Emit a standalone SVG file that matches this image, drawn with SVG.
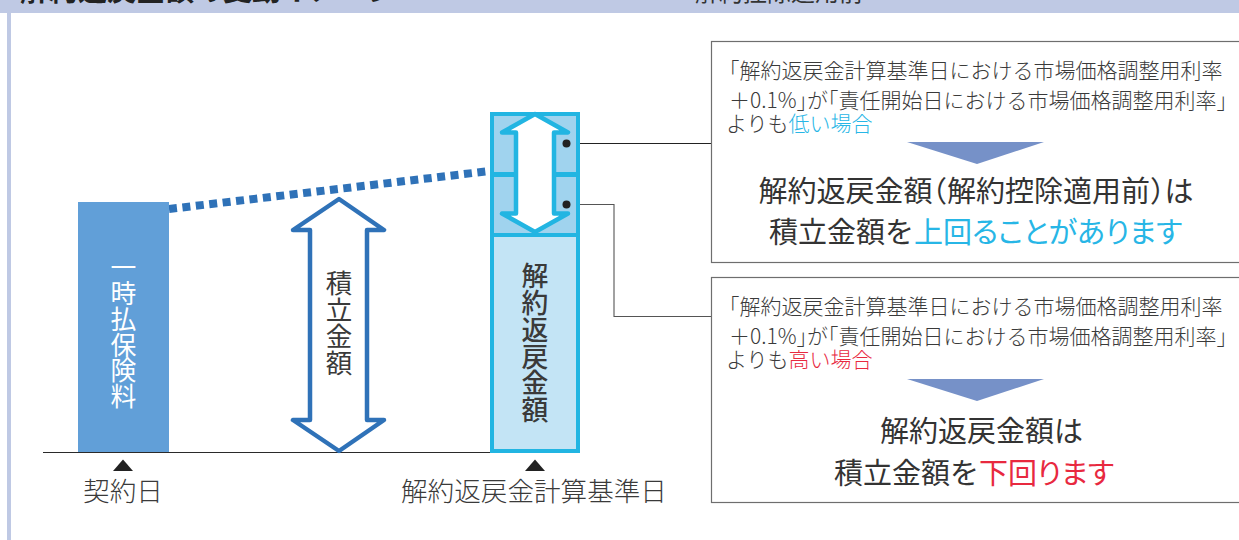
<svg xmlns="http://www.w3.org/2000/svg" width="1239" height="540" viewBox="0 0 1239 540">
<defs><style>
text{font-family:"Noto Sans CJK JP","Noto Sans",sans-serif;font-weight:300;fill:#3a3a3a}
.small{font-size:21px}
.big{font-size:29px;font-weight:400;fill:#333}
.mid{text-anchor:middle}
.label{font-size:26.6px;text-anchor:middle}
.v{writing-mode:vertical-rl;text-anchor:middle}
.cy{fill:#27b6e6}
.rd{fill:#e8293f}
.h{font-feature-settings:"halt"}
.p{font-feature-settings:"palt"}
.box{fill:#fff;stroke:#6e6e6e;stroke-width:1.2}
.lead{fill:none;stroke-width:1.1}
</style></defs>
<rect width="1239" height="540" fill="#fff"/>
<g id="frame"><rect x="0" y="0" width="1239" height="13" fill="#bfc9e4"/><rect x="7" y="13" width="4" height="527" fill="#bfc9e4"/>
<text x="20" y="1" font-size="29" style="font-weight:700;fill:#222">解約返戻金額の変動イメージ</text>
<text x="695" y="1" font-size="24" style="font-weight:400;fill:#333">解約控除適用前</text></g>
<g id="connectors">
<path d="M169 209L490 171" fill="none" stroke="#2f72b8" stroke-width="8" stroke-dasharray="8 5.500"/>
<path class="lead" stroke="#222" d="M566 143.500H712"/>
<path class="lead" stroke="#555" d="M566 204.500H614V316.500H712"/>
<path d="M43 452.500H576" stroke="#2a2a2a" stroke-width="1.200"/>
</g>
<g id="premium"><rect x="78" y="202" width="91" height="250" fill="#619fd8"/>
<text class="v" x="123.500" y="332" font-size="25.800" style="fill:#fff;font-weight:400">一時払保険料</text></g>
<g id="accumulation"><path d="M339 199L384 230H367V420H384L339 451L293 420H310V230H293Z" fill="#fff" stroke="#2f72b8" stroke-width="4.500" stroke-linejoin="round"/>
<text class="v" x="339" y="323" font-size="26.500" style="font-weight:400">積立金額</text></g>
<g id="surrender">
<rect x="492" y="235" width="86" height="216" fill="#c3e4f5" stroke="#22b5e2" stroke-width="4"/>
<rect x="492" y="114" width="86" height="121" fill="#a0d3ee" stroke="#22b5e2" stroke-width="4"/>
<path d="M490 174.500H580" stroke="#22b5e2" stroke-width="5"/>
<path d="M535 114L568 132.500H554V213.500H568L535 232L502 213.500H516V132.500H502Z" fill="#fff" stroke="#22b5e2" stroke-width="4.500" stroke-linejoin="round"/>
<circle cx="566.500" cy="143.500" r="4" fill="#222"/><circle cx="566.500" cy="204.500" r="4" fill="#222"/>
<text class="v" x="535" y="343" font-size="26.800" style="font-weight:500">解約返戻金額</text></g>
<g id="dates">
<path d="M123 459.500L133 471H113Z" fill="#222"/><path d="M535 459.500L545 471H525Z" fill="#222"/>
<text class="label" x="123" y="501">契約日</text><text class="label" x="534" y="501">解約返戻金計算基準日</text></g>
<g id="box-low"><rect class="box" x="711.500" y="41.500" width="540" height="221"/>
<text class="small" x="729" y="78"><tspan class="h">「</tspan>解約返戻金計算基準日における市場価格調整用利率</text>
<text class="small" x="729" y="108">＋0.1%<tspan class="h">」</tspan>が<tspan class="h">「</tspan>責任開始日における市場価格調整用利率<tspan class="h">」</tspan></text>
<text class="small" x="726" y="131">よりも<tspan class="cy">低い場合</tspan></text>
<path d="M907 142H1044L977 164Z" fill="#7691c8"/>
<text class="big mid" x="976" y="202">解約返戻金額<tspan class="h">（</tspan>解約控除適用前<tspan class="h">）</tspan>は</text>
<text class="big" x="769" y="243">積立金額を<tspan class="cy p">上回ることがあります</tspan></text></g>
<g id="box-high"><rect class="box" x="711.500" y="277.500" width="540" height="225"/>
<text class="small" x="729" y="314"><tspan class="h">「</tspan>解約返戻金計算基準日における市場価格調整用利率</text>
<text class="small" x="729" y="344">＋0.1%<tspan class="h">」</tspan>が<tspan class="h">「</tspan>責任開始日における市場価格調整用利率<tspan class="h">」</tspan></text>
<text class="small" x="726" y="367">よりも<tspan class="rd">高い場合</tspan></text>
<path d="M907 379H1044L977 401Z" fill="#7691c8"/>
<text class="big mid" x="981.500" y="442">解約返戻金額は</text>
<text class="big" x="834" y="484">積立金額を<tspan class="rd p">下回ります</tspan></text></g>
</svg>
